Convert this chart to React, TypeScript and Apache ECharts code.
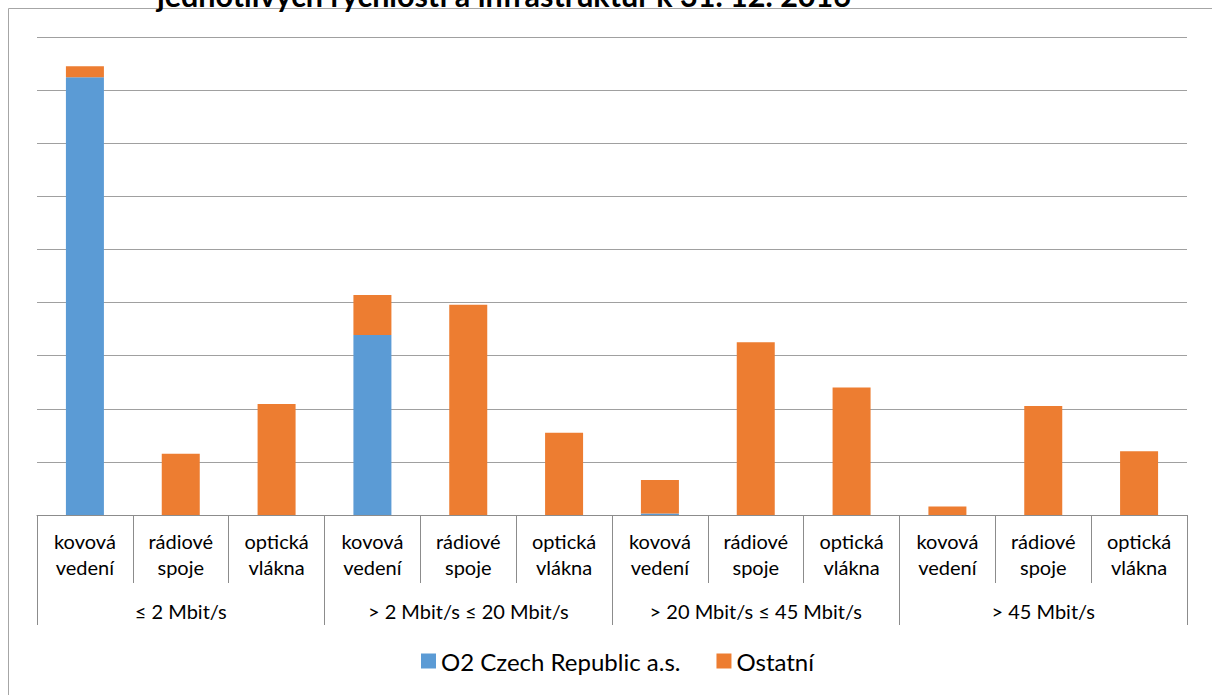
import React, { useEffect, useRef } from "react";
import * as echarts from "echarts";

const categories = [
  "kovová\nvedení", "rádiové\nspoje", "optická\nvlákna",
  "kovová\nvedení", "rádiové\nspoje", "optická\nvlákna",
  "kovová\nvedení", "rádiové\nspoje", "optická\nvlákna",
  "kovová\nvedení", "rádiové\nspoje", "optická\nvlákna",
];
const groups = ["≤ 2 Mbit/s", "> 2 Mbit/s ≤ 20 Mbit/s", "> 20 Mbit/s ≤ 45 Mbit/s", "> 45 Mbit/s"];
const o2Values = [412, 0, 0, 169.5, 0, 0, 1.5, 0, 0, 0, 0, 0];
const otherValues = [10.5, 57.6, 104.6, 37.6, 198, 77.4, 31.4, 162.6, 120, 8.1, 102.5, 60];
const seriesNames = ["O2 Czech Republic a.s.", "Ostatní"];
const titleText = "jednotlivých rychlostí a infrastruktur k 31. 12. 2016";

const FONT = "Lato, 'Open Sans', sans-serif";

export default function App() {
  const ref = useRef<HTMLDivElement>(null);
  useEffect(() => {
    if (!ref.current) return;
    const chart = echarts.init(ref.current, null, { renderer: "svg" });
    chart.setOption({
      animation: false,
      backgroundColor: "#ffffff",
      textStyle: { fontFamily: FONT },
      graphic: [
        {
          type: "polyline",
          shape: { points: [[8.5, 700], [8.5, 8.5], [1212, 8.5]] },
          style: { fill: "none", stroke: "#a6a6a6", lineWidth: 1 },
          silent: true,
        },
        {
          type: "text",
          x: 157,
          y: -5,
          style: {
            text: titleText,
            font: `bold 30.5px ${FONT}`,
            fill: "#000",
            verticalAlign: "middle",
            align: "left",
          },
        },
      ],
      legend: {
        left: 416,
        top: 644,
        icon: "rect",
        itemWidth: 15,
        itemHeight: 15,
        itemGap: 36,
        textStyle: { fontSize: 24, color: "#000", fontFamily: FONT },
        data: seriesNames,
      },
      grid: {
        left: 37,
        right: 25,
        top: 37,
        bottom: 180,
        outerBoundsMode: "none",
      },
      xAxis: [
        {
          type: "category",
          data: categories,
          position: "bottom",
          axisLine: { show: true, lineStyle: { color: "#8c8c8c", width: 1 } },
          axisTick: { show: true, length: 68, interval: 0, lineStyle: { color: "#8c8c8c" } },
          axisLabel: {
            interval: 0,
            margin: 13,
            fontSize: 20,
            lineHeight: 26,
            color: "#000",
            fontFamily: FONT,
          },
        },
        {
          type: "category",
          data: groups,
          position: "bottom",
          axisLine: { show: false },
          axisTick: { show: true, length: 110, interval: 0, lineStyle: { color: "#8c8c8c" } },
          axisLabel: {
            interval: 0,
            margin: 84,
            fontSize: 20,
            lineHeight: 24,
            color: "#000",
            fontFamily: FONT,
          },
        },
      ],
      yAxis: {
        type: "value",
        min: 0,
        max: 450,
        interval: 50,
        axisLabel: { show: false },
        axisLine: { show: false },
        axisTick: { show: false },
        splitLine: { show: true, lineStyle: { color: "#a0a0a0", width: 1 } },
      },
      series: [
        {
          name: seriesNames[0],
          type: "bar",
          stack: "total",
          xAxisIndex: 0,
          barWidth: 38,
          itemStyle: { color: "#5B9BD5" },
          data: o2Values,
        },
        {
          name: seriesNames[1],
          type: "bar",
          stack: "total",
          xAxisIndex: 0,
          barWidth: 38,
          itemStyle: { color: "#ED7D31" },
          data: otherValues,
        },
      ],
    });
    return () => chart.dispose();
  }, []);
  return (
    <div
      ref={ref}
      style={{ position: "fixed", left: 0, top: 0, width: 1212, height: 695 }}
    />
  );
}
